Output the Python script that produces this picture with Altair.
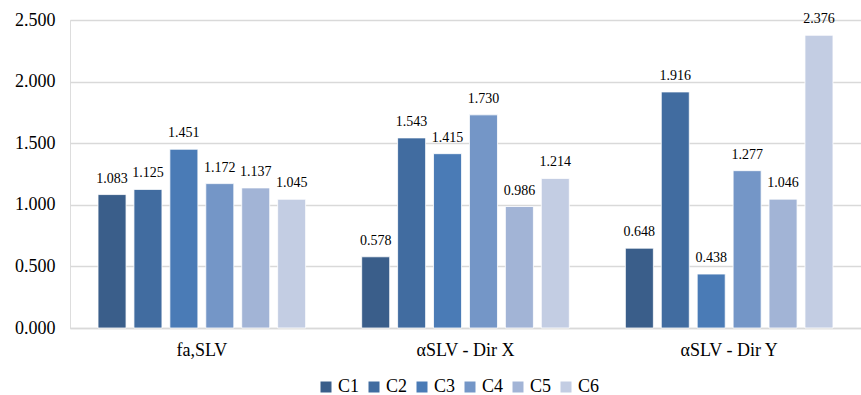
import altair as alt
import pandas as pd

groups = ["fa,SLV", "αSLV - Dir X", "αSLV - Dir Y"]
series = ["C1", "C2", "C3", "C4", "C5", "C6"]
values = {
    "fa,SLV":       [1.083, 1.125, 1.451, 1.172, 1.137, 1.045],
    "αSLV - Dir X": [0.578, 1.543, 1.415, 1.730, 0.986, 1.214],
    "αSLV - Dir Y": [0.648, 1.916, 0.438, 1.277, 1.046, 2.376],
}
colors = ["#3A5E8A", "#416CA0", "#4A7BB6", "#7496C7", "#A2B4D6", "#C3CDE3"]

rows = [
    {"group": g, "series": s, "value": v}
    for g in groups
    for s, v in zip(series, values[g])
]
df = pd.DataFrame(rows)

FONT = "Liberation Serif"

x = alt.X("group:N", sort=groups, title=None,
          scale=alt.Scale(paddingInner=0, paddingOuter=0),
          axis=alt.Axis(labelAngle=0, labelFontSize=18,
                        labelColor="#000000", ticks=False, labelPadding=13,
                        domainColor="#d9d9d9", domainWidth=1.5))
xoff = alt.XOffset("series:N", sort=series,
                   scale=alt.Scale(paddingInner=0.22, paddingOuter=0.78))

base = alt.Chart(df).encode(x=x, xOffset=xoff)

bars = base.mark_bar(stroke="white", strokeWidth=0.8).encode(
    y=alt.Y("value:Q", title=None,
            scale=alt.Scale(domain=[0, 2.5], nice=False),
            axis=alt.Axis(values=[0, 0.5, 1.0, 1.5, 2.0, 2.5], format=".3f",
                          labelFontSize=18, labelColor="#000000",
                          domain=False, ticks=False, labelPadding=15,
                          gridColor="#d9d9d9", gridWidth=1.5)),
    color=alt.Color("series:N", sort=series,
                    scale=alt.Scale(domain=series, range=colors),
                    legend=alt.Legend(title=None, orient="none", direction="horizontal",
                                      legendX=247, legendY=358,
                                      symbolType="square", symbolSize=121,
                                      symbolStrokeWidth=0,
                                      labelFontSize=18,
                                      labelColor="#000000", columnPadding=5,
                                      labelOffset=3)),
)

labels = base.mark_text(dy=-16, fontSize=14, color="#000000").encode(
    y="value:Q",
    text=alt.Text("value:Q", format=".3f"),
)

chart = (
    alt.layer(bars, labels)
    .properties(width=791, height=308,
                autosize=alt.AutoSizeParams(type="none"),
                padding={"left": 70, "top": 20, "right": 0, "bottom": 67})
    .configure_view(stroke=None)
    .configure(background="white", font=FONT)
    .configure_axis(labelFont=FONT, labelFontWeight="normal")
    .configure_legend(labelFont=FONT, labelFontWeight="normal")
    .configure_text(font=FONT)
)

chart.save("out.html", embed_options={"renderer": "svg", "actions": False})
